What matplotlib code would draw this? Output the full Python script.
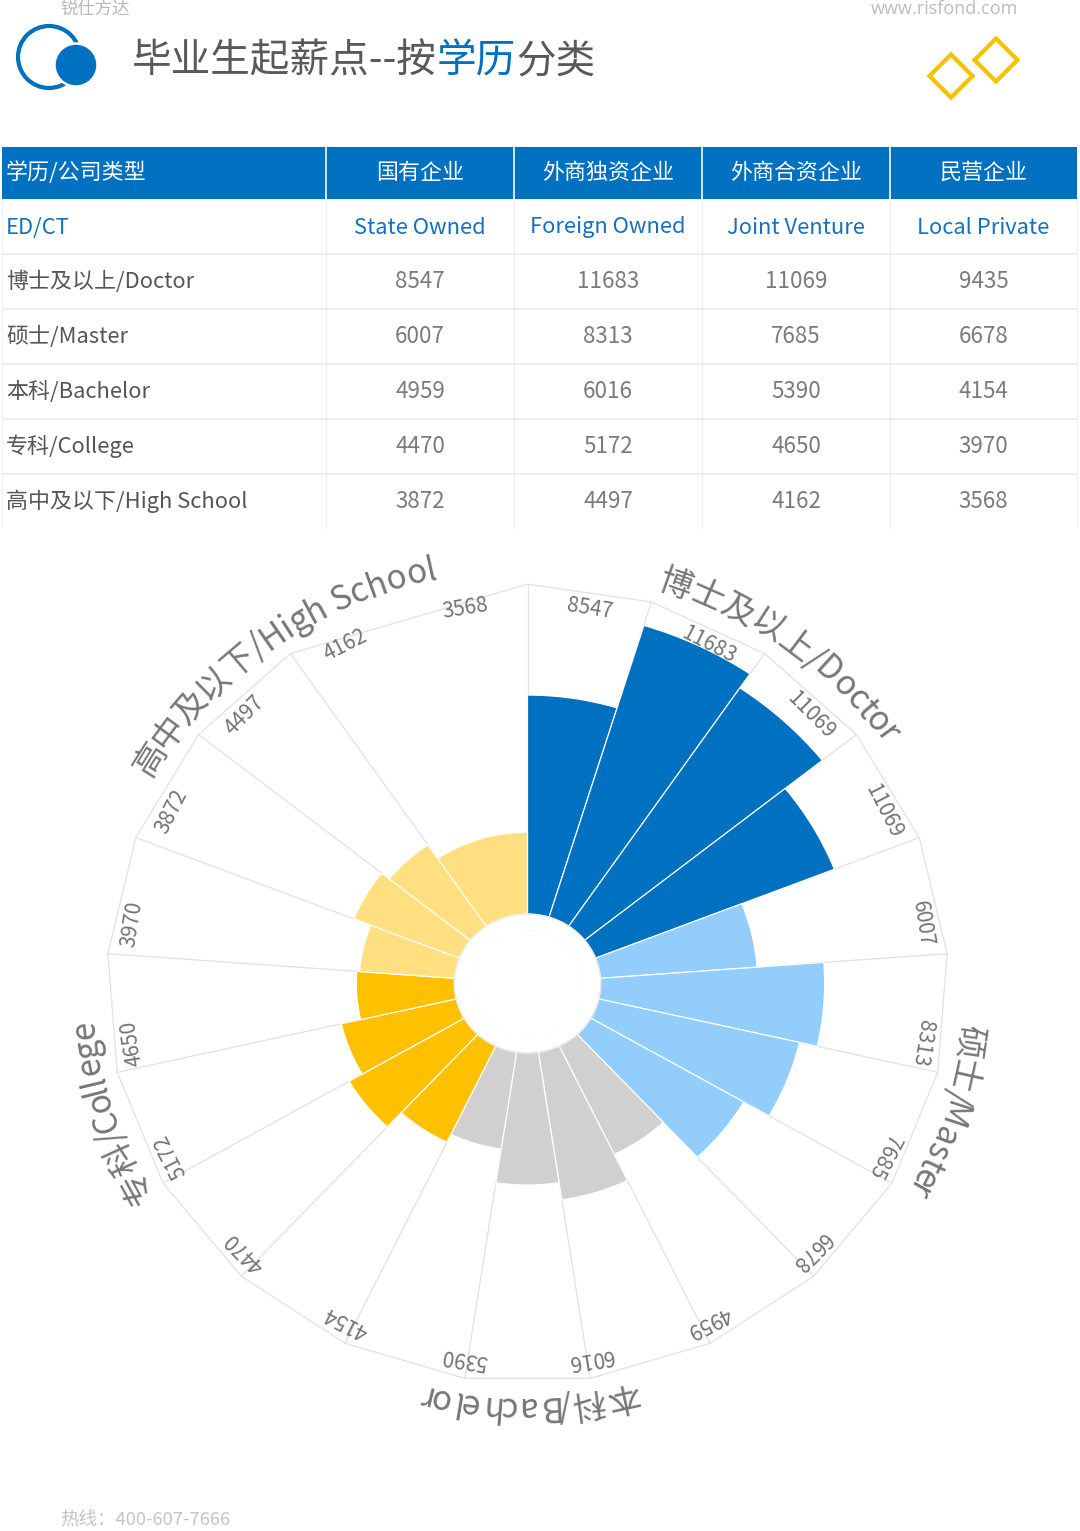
import numpy as np
import matplotlib
matplotlib.use("Agg")
import matplotlib.pyplot as plt
from matplotlib.patches import Rectangle, Circle, Polygon

plt.rcParams['font.family'] = ['Noto Sans CJK SC', 'DejaVu Sans']

# ---------------- data ----------------
edu_cn = ['博士及以上', '硕士', '本科', '专科', '高中及以下']
edu_en = ['Doctor', 'Master', 'Bachelor', 'College', 'High School']
type_cn = ['国有企业', '外商独资企业', '外商合资企业', '民营企业']
type_en = ['State Owned', 'Foreign Owned', 'Joint Venture', 'Local Private']
header_cn = '学历/公司类型'
header_en = 'ED/CT'

doctor = [8547, 11683, 11069, 9435]
master = [6007, 8313, 7685, 6678]
bachelor = [4959, 6016, 5390, 4154]
college = [4470, 5172, 4650, 3970]
high_school = [3872, 4497, 4162, 3568]
# value labels as printed around the chart in the original (4th doctor label reads 11069)
doctor_chart_labels = [8547, 11683, 11069, 11069]

group_colors = ['#0070C0', '#92CDFB', '#D0D0D0', '#FFC000', '#FFDF80']

title_parts = ['毕业生起薪点--按', '学历', '分类']
brand = '锐仕方达'
website = 'www.risfond.com'
hotline = '热线：400-607-7666'

# ---------------- figure ----------------
W, H = 1080, 1531
fig = plt.figure(figsize=(W / 100, H / 100), dpi=100)
fig.patch.set_facecolor('white')
renderer = fig.canvas.get_renderer()

bg = fig.add_axes([0, 0, 1, 1])
bg.set_xlim(0, W)
bg.set_ylim(H, 0)
bg.axis('off')

BLUE = '#0070C0'
PX = 0.72  # points per pixel at dpi 100

# header texts
bg.text(60, 9, brand, fontsize=12.5, color='#b8b8b8', va='center', ha='left')
bg.text(1018, 9, website, fontsize=13, color='#bcbcbc', va='center', ha='right',
        family=['Open Sans', 'DejaVu Sans'])

# logo
bg.add_patch(Circle((49, 57), 31, fill=False, ec=BLUE, lw=4.2 * PX))
bg.add_patch(Circle((76, 65), 21.5, fc=BLUE, ec='white', lw=2.5 * PX))

# title in three pieces
TFS = 28.5
t1 = bg.text(132, 61, title_parts[0], fontsize=TFS, color='#595959', va='center', ha='left')
t2 = bg.annotate(title_parts[1], xy=(1, 0), xycoords=t1, fontsize=TFS, color=BLUE,
                 va='bottom', ha='left')
t3 = bg.annotate(title_parts[2], xy=(1, 0), xycoords=t2, fontsize=TFS, color='#595959',
                 va='bottom', ha='left')

# diamonds
for dcx, dcy, hw in [(951, 76, 21.5), (996, 60, 21.5)]:
    bg.add_patch(Polygon([(dcx, dcy - hw), (dcx + hw, dcy), (dcx, dcy + hw), (dcx - hw, dcy)],
                         closed=True, fill=False, ec='#F7C100', lw=4.2 * PX, joinstyle='miter'))

# ---------------- table ----------------
col_edges = [2, 326, 514, 702, 890, 1077]
row_edges = [147, 199, 254, 309, 364, 419, 474, 528]
col_centers = [(col_edges[i] + col_edges[i + 1]) / 2 for i in range(1, 5)]
row_centers = [(row_edges[i] + row_edges[i + 1]) / 2 for i in range(7)]

bg.add_patch(Rectangle((col_edges[0], row_edges[0]), col_edges[-1] - col_edges[0],
                       row_edges[1] - row_edges[0], fc=BLUE, ec='none'))
for x in col_edges[1:-1]:
    bg.plot([x, x], [row_edges[0], row_edges[1]], color='white', lw=1.6 * PX)
    bg.plot([x, x], [row_edges[1], row_edges[-1]], color='#efefef', lw=1.2 * PX)
for y in row_edges[2:-1]:
    bg.plot([col_edges[0], col_edges[-1]], [y, y], color='#e9e9e9', lw=1.5 * PX)
bg.plot([col_edges[0], col_edges[0]], [row_edges[1], row_edges[-1]], color='#f2f2f2', lw=1 * PX)
bg.plot([col_edges[-1], col_edges[-1]], [row_edges[1], row_edges[-1]], color='#f2f2f2', lw=1 * PX)

FS_T = 15.8
bg.text(6, row_centers[0], header_cn, fontsize=FS_T, color='white', va='center', ha='left')
for x, s in zip(col_centers, type_cn):
    bg.text(x, row_centers[0], s, fontsize=FS_T, color='white', va='center', ha='center')
bg.text(6, row_centers[1] + 1, header_en, fontsize=FS_T, color='#1570BD', va='center', ha='left')
for x, s in zip(col_centers, type_en):
    bg.text(x, row_centers[1] + 1, s, fontsize=FS_T, color='#1570BD', va='center', ha='center')

rows = [doctor, master, bachelor, college, high_school]
for r, (cn, en, vals) in enumerate(zip(edu_cn, edu_en, rows)):
    yc = row_centers[r + 2]
    bg.text(6, yc, f'{cn}/{en}', fontsize=FS_T, color='#555555', va='center', ha='left')
    for x, v in zip(col_centers, vals):
        bg.text(x, yc, str(v), fontsize=FS_T + 0.3, color='#7b7b7b', va='center', ha='center')

bg.text(60, 1520, hotline, fontsize=13.3, color='#c4c4c4', va='center', ha='left')

# ---------------- polar chart ----------------
cx, cy = 527.5, 983.5
rx, ry = 421.5, 400.0
pax = fig.add_axes([(cx - rx) / W, (H - cy - ry) / H, 2 * rx / W, 2 * ry / H],
                   projection='polar')
pax.set_aspect('auto')
pax.patch.set_alpha(0)
pax.set_theta_zero_location('N')
pax.set_theta_direction(-1)

R_MAX = 12600
R_ORIGIN = -1930
HOLE = 590
pax.set_ylim(0, R_MAX)
pax.set_rorigin(R_ORIGIN)
PX_PER_UNIT = rx / (R_MAX - R_ORIGIN)

values = doctor + master + bachelor + college + high_school
colors = [c for c in group_colors for _ in range(4)]
n_slots = 21
w = 2 * np.pi / n_slots
lefts = np.arange(len(values)) * w
widths = np.full(len(values), w)
widths[-1] = 2 * w  # last sector spans the remaining gap, as in the original

pax.bar(lefts, values, width=widths, bottom=0, align='edge', color=colors,
        edgecolor='white', linewidth=1.2 * PX, zorder=2)

# grid: spokes at sector boundaries + outer polygon
pax.set_xticks(lefts)
pax.set_xticklabels([])
pax.set_yticks([])
pax.tick_params(axis='x', length=0, pad=0)
pax.xaxis.grid(True, color='#e2e2e2', lw=1.3 * PX)
pax.set_axisbelow(True)
for sp in pax.spines.values():
    sp.set_visible(False)
    sp.set_edgecolor('none')
    sp.set_linewidth(0)
poly_t = np.append(lefts, lefts[0])
pax.plot(poly_t, np.full(poly_t.shape, R_MAX * 0.998), color='#e2e2e2', lw=1.3 * PX, zorder=1)

# centre hole
tt = np.linspace(0, 2 * np.pi, 400)
pax.fill(tt, np.full(tt.shape, HOLE), color='white', zorder=5)
pax.plot(tt, np.full(tt.shape, HOLE), color='#e8e8e8', lw=1.2 * PX, zorder=6)

# value labels (evenly spaced, 20 positions)
chart_labels = doctor_chart_labels + master + bachelor + college + high_school
lab_step = 2 * np.pi / len(chart_labels)
LABEL_R = 11860
for i, v in enumerate(chart_labels):
    th = (i + 0.5) * lab_step
    pax.text(th, LABEL_R, str(v), rotation=-np.degrees(th), rotation_mode='anchor',
             ha='center', va='center', fontsize=15, color='#737373', zorder=7)


# category labels, curved along the outer ring
def text_width(s, fs):
    t = fig.text(0, 0, s, fontsize=fs)
    wdt = t.get_window_extent(renderer).width
    t.remove()
    return wdt


CAT_FS = 24
CAT_BASE_PX = 436.0          # baseline radius in pixels
cat_base = CAT_BASE_PX / PX_PER_UNIT + R_ORIGIN
ref_w = text_width('nn', CAT_FS)
for g, (cn, en) in enumerate(zip(edu_cn, edu_en)):
    label = f'{cn}/{en}'
    th_c = (4 * g + 2) * lab_step
    cw = [text_width('n' + ch + 'n', CAT_FS) - ref_w for ch in label]
    total = sum(cw) / CAT_BASE_PX
    pos = th_c - total / 2
    for ch, wch in zip(label, cw):
        th = pos + (wch / 2) / CAT_BASE_PX
        pos += wch / CAT_BASE_PX
        if ch.strip():
            pax.text(th, cat_base, ch, rotation=-np.degrees(th), rotation_mode='anchor',
                     ha='center', va='baseline', fontsize=CAT_FS, color='#767676', zorder=7)

fig.savefig('out.png', dpi=100, facecolor='white')
